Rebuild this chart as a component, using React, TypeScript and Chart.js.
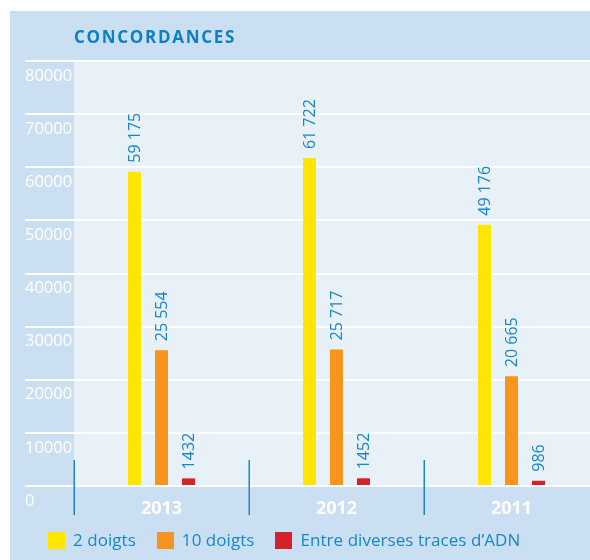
import React, { useEffect, useRef } from 'react';
import { Chart, registerables } from 'chart.js';

Chart.register(...registerables);

// ---- data ----
const categories = ['2013', '2012', '2011'];
const twoFingers = [59175, 61722, 49176];
const tenFingers = [25554, 25717, 20665];
const dnaTraces = [1432, 1452, 986];
const seriesNames = ['2 doigts', '10 doigts', 'Entre diverses traces d\u2019ADN'];
const seriesColors = ['#ffe600', '#f7941d', '#d3222a'];
const yMin = 0;
const yMax = 80000;
const yStep = 10000;
const titleText = 'CONCORDANCES';

const FONT = '"Open Sans", "DejaVu Sans", sans-serif';
const BOX_BG = '#cbdff2';
const PLOT_BG = '#e8f0f8';
const BLUE = '#1787c9';

function fmt(v: number): string {
  const s = String(v);
  if (v < 10000) return s;
  return s.replace(/\B(?=(\d{3})+(?!\d))/g, ' ');
}

const bgPlugin = {
  id: 'bgPlugin',
  beforeDraw(chart: any) {
    const { ctx, chartArea } = chart;
    ctx.save();
    ctx.fillStyle = BOX_BG;
    ctx.fillRect(10, 11, chart.width - 10, chart.height - 11);
    ctx.fillStyle = PLOT_BG;
    ctx.fillRect(chartArea.left, chartArea.top, chartArea.right - chartArea.left, chartArea.bottom - chartArea.top);
    ctx.restore();
  },
};

const separatorPlugin = {
  id: 'separatorPlugin',
  afterDraw(chart: any) {
    const { ctx } = chart;
    const x = chart.scales.x;
    const n = categories.length;
    const w = x.width / n;
    ctx.save();
    ctx.strokeStyle = BLUE;
    ctx.lineWidth = 1.5;
    for (let i = 0; i <= n; i++) {
      const px = Math.round(x.left + i * w) + 0.25;
      ctx.beginPath();
      ctx.moveTo(px, x.top - 26);
      ctx.lineTo(px, x.top + 29);
      ctx.stroke();
    }
    ctx.restore();
  },
};

const valueLabelPlugin = {
  id: 'valueLabelPlugin',
  afterDatasetsDraw(chart: any) {
    const { ctx } = chart;
    ctx.save();
    ctx.fillStyle = BLUE;
    ctx.font = `16px ${FONT}`;
    ctx.textAlign = 'left';
    ctx.textBaseline = 'middle';
    chart.data.datasets.forEach((ds: any, di: number) => {
      const meta = chart.getDatasetMeta(di);
      meta.data.forEach((el: any, i: number) => {
        ctx.save();
        ctx.translate(el.x + 1, el.y - 9);
        ctx.rotate(-Math.PI / 2);
        ctx.fillText(fmt(ds.data[i]), 0, 0);
        ctx.restore();
      });
    });
    ctx.restore();
  },
};

export default function App() {
  const ref = useRef<HTMLCanvasElement | null>(null);

  useEffect(() => {
    if (!ref.current) return;
    const chart = new Chart(ref.current, {
      type: 'bar',
      data: {
        labels: categories,
        datasets: [
          { label: seriesNames[0], data: twoFingers, backgroundColor: seriesColors[0] },
          { label: seriesNames[1], data: tenFingers, backgroundColor: seriesColors[1] },
          { label: seriesNames[2], data: dnaTraces, backgroundColor: seriesColors[2] },
        ],
      },
      options: {
        responsive: false,
        devicePixelRatio: 1,
        animation: false,
        layout: { padding: { left: 25, top: 61, right: 1, bottom: 0 } },
        datasets: {
          bar: { categoryPercentage: 0.463, barPercentage: 0.48 },
        },
        plugins: {
          legend: { display: false },
          title: { display: false },
          tooltip: { enabled: false },
        },
        scales: {
          x: {
            offset: true,
            grid: { display: false },
            border: { display: false },
            ticks: {
              color: '#ffffff',
              font: { family: FONT, size: 18, weight: 'bold' },
              padding: 4,
              maxRotation: 0,
            },
            afterFit: (s: any) => { s.height = 74; },
          },
          y: {
            min: yMin,
            max: yMax,
            border: { display: false },
            grid: { color: '#ffffff', lineWidth: 2, tickLength: 49, drawTicks: true },
            ticks: {
              stepSize: yStep,
              color: '#ffffff',
              font: { family: FONT, size: 16.5 },
              crossAlign: 'far',
              labelOffset: 15,
              padding: 0,
              callback: (v: any) => String(v),
            },
            afterFit: (s: any) => { s.width = 49; },
          },
        },
      },
      plugins: [bgPlugin, separatorPlugin, valueLabelPlugin],
    } as any);
    return () => chart.destroy();
  }, []);

  const legendItem = (i: number) => (
    <div key={i} style={{ display: 'flex', alignItems: 'flex-start', marginRight: 21 }}>
      <div style={{ width: 17, height: 17, background: seriesColors[i], marginRight: 8 }} />
      <span style={{ font: `17px ${FONT}`, lineHeight: '17px', color: BLUE, position: 'relative', top: -1.5, whiteSpace: 'nowrap', letterSpacing: '0.05px' }}>
        {seriesNames[i]}
      </span>
    </div>
  );

  return (
    <div style={{ position: 'absolute', left: 0, top: 0, width: 590, height: 560, overflow: 'hidden', background: '#ffffff' }}>
      <canvas ref={ref} width={600} height={560} style={{ position: 'absolute', left: 0, top: 0, width: 600, height: 560, display: 'block' }} />
      <div style={{ position: 'absolute', left: 74, top: 28, font: `bold 17px ${FONT}`, lineHeight: '17px', letterSpacing: '1.7px', color: '#0b80c3', whiteSpace: 'nowrap' }}>
        {titleText}
      </div>
      <div style={{ position: 'absolute', left: 48, top: 532, display: 'flex' }}>
        {seriesNames.map((_, i) => legendItem(i))}
      </div>
    </div>
  );
}
